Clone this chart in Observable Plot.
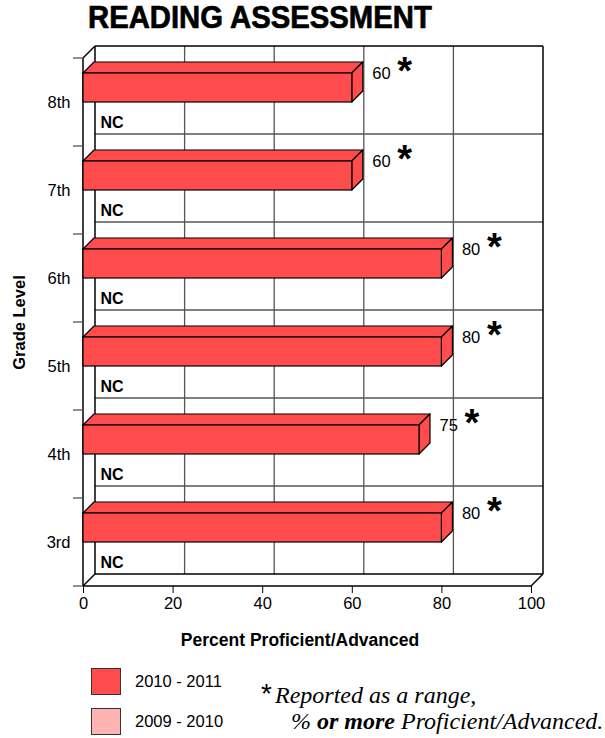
<!DOCTYPE html>
<html><head><meta charset="utf-8">
<script src="https://cdn.jsdelivr.net/npm/d3@7"></script>
<script src="https://cdn.jsdelivr.net/npm/@observablehq/plot@0.6"></script>
<style>
body{margin:0;background:#fff;}
#wrap{position:relative;width:605px;height:738px;overflow:hidden;font-family:"Liberation Sans",Arial,sans-serif;color:#000;}
#chart{position:absolute;left:0;top:0;}
.abs{position:absolute;white-space:nowrap;}
#title{left:88px;top:0;font-weight:bold;font-size:32px;line-height:35px;transform:scaleX(0.915);transform-origin:0 0;-webkit-text-stroke:0.7px #000;}
.sw{border:1px solid #333;box-sizing:border-box;width:30px;height:27px;left:91px;}
.lt{left:135px;font-size:16.5px;line-height:16.5px;}
.fn{font-family:"Liberation Serif","Times New Roman",serif;font-style:italic;font-size:24px;line-height:24px;}
</style></head><body>
<div id="wrap">
  <div id="chart"></div>
  <div class="abs" id="title">READING ASSESSMENT</div>
  <div id="legend"></div>
  <div class="abs" style="left:261px;top:680px;font-size:28px;line-height:28px;">*</div>
  <div class="abs fn" style="left:275px;top:683px;">Reported as a range,</div>
  <div class="abs fn" style="left:291px;top:709px;">% <b>or more</b> Proficient/Advanced.</div>
</div>
<script>
const grades = ["8th", "7th", "6th", "5th", "4th", "3rd"];
const current = [60, 60, 80, 80, 75, 80];           // 2010 - 2011
const previous = ["NC", "NC", "NC", "NC", "NC", "NC"]; // 2009 - 2010
const rangeMark = ["*", "*", "*", "*", "*", "*"];
const xTicks = [0, 20, 40, 60, 80, 100];
const seriesNames = ["2010 - 2011", "2009 - 2010"];
const seriesColors = ["#FF4D4D", "#FFB3B3"];
const xLabel = "Percent Proficient/Advanced";
const yLabel = "Grade Level";

const rows = grades.map((g, i) => ({grade: g, v: current[i], prev: previous[i], mark: rangeMark[i]}));

const DEPTH = 12, BAR_DEPTH = 11;
const BAR_TOP = 15, BAR_BOTTOM = 44; // px inside each 88px band

function frame(index, scales, values, dim) {
  const x = scales.x, y = scales.y;
  const L = x(0), R = x(100), T = dim.marginTop, B = dim.height - dim.marginBottom;
  const d = DEPTH;
  const g = d3.create("svg:g").attr("fill", "none");
  const line = (x1, y1, x2, y2, stroke = "#000", w = 1.5) =>
    g.append("line").attr("x1", x1).attr("y1", y1).attr("x2", x2).attr("y2", y2)
      .attr("stroke", stroke).attr("stroke-width", w);
  for (const t of xTicks.slice(1, -1)) line(x(t) + d, T - d, x(t) + d, B - d, "#555", 1.3);
  for (const gr of grades.slice(1)) line(L + d, y(gr) - d, R + d, y(gr) - d, "#555", 1.3);
  line(L + d, T - d, R + d, T - d);
  line(L + d, T - d, L + d, B - d);
  line(R + d, T - d, R + d, B - d);
  line(L + d, B - d, R + d, B - d);
  line(L, B, R, B);
  line(L, B, L + d, B - d);
  line(R, B, R + d, B - d);
  line(L, T, L + d, T - d);
  line(L, T, L, B);
  for (const gr of grades) line(L - 10, y(gr), L, y(gr), "#555", 1.3);
  line(L - 10, B, L, B, "#555", 1.3);
  return g.node();
}

function bars3d(index, scales, values, dim) {
  const x = scales.x, y = scales.y;
  const d = BAR_DEPTH;
  const g = d3.create("svg:g").attr("fill", seriesColors[0]).attr("stroke", "#000")
    .attr("stroke-width", 1.2).attr("stroke-linejoin", "round");
  rows.forEach((r) => {
    const x0 = x(0), x1 = x(r.v);
    const yt = y(r.grade) + BAR_TOP, yb = y(r.grade) + BAR_BOTTOM;
    g.append("path").attr("d", `M${x0},${yt}L${x0 + d},${yt - d}L${x1 + d},${yt - d}L${x1},${yt}Z`);
    g.append("path").attr("d", `M${x1},${yt}L${x1 + d},${yt - d}L${x1 + d},${yb - d}L${x1},${yb}Z`);
  });
  return g.node();
}

const plot = Plot.plot({
  width: 605,
  height: 660,
  marginLeft: 83,
  marginRight: 74,
  marginTop: 58,
  marginBottom: 74,
  style: {fontFamily: '"Liberation Sans", Arial, sans-serif', fontSize: "16px", background: "transparent", color: "#000"},
  x: {domain: [0, 100]},
  y: {domain: grades, type: "band", paddingInner: 0, paddingOuter: 0},
  marks: [
    frame,
    Plot.text(rows, {x: 0, y: "grade", text: "prev", dx: 17, dy: 20, textAnchor: "start", fontWeight: "bold", fontSize: 16}),
    bars3d,
    Plot.barX(rows, {x: "v", y: "grade", fill: seriesColors[0], stroke: "#000", strokeWidth: 1.2, insetTop: BAR_TOP, insetBottom: 88 - BAR_BOTTOM}),
    Plot.text(rows, {x: "v", y: "grade", text: (d) => String(d.v), dx: 20, dy: -29, textAnchor: "start", fontSize: 16.5}),
    Plot.text(rows, {x: "v", y: "grade", text: "mark", dx: 45, dy: -31, textAnchor: "start", fontSize: 38, fontWeight: "bold"}),
    Plot.axisX({ticks: xTicks, tickSize: 7, tickPadding: 4, label: null, fontSize: 16.5}),
    Plot.axisY({tickSize: 0, tickPadding: 13, label: null, fontSize: 16.5}),
    Plot.text([xLabel], {frameAnchor: "bottom", textAnchor: "middle", lineAnchor: "middle", dx: -7.5, dy: 54, fontWeight: "bold", fontSize: 17.5}),
    Plot.text([yLabel], {frameAnchor: "left", textAnchor: "middle", lineAnchor: "middle", rotate: -90, dx: -63.5, dy: 0, fontWeight: "bold", fontSize: 16.5})
  ]
});
document.getElementById("chart").appendChild(plot);

const legend = document.getElementById("legend");
seriesNames.forEach((name, i) => {
  const top = 668 + i * 40;
  const sw = document.createElement("div");
  sw.className = "abs sw";
  sw.style.top = top + "px";
  sw.style.background = seriesColors[i];
  legend.appendChild(sw);
  const t = document.createElement("div");
  t.className = "abs lt";
  t.style.top = (top + 5) + "px";
  t.textContent = name;
  legend.appendChild(t);
});
</script>
</body></html>
